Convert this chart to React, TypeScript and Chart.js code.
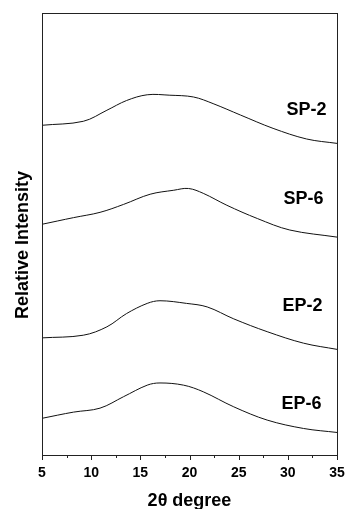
import React, { useEffect, useRef } from "react";
import { Chart, registerables } from "chart.js";

Chart.register(...registerables);

const xTicks = [5, 10, 15, 20, 25, 30, 35];

const sp2X = [5, 9.2, 11.6, 13.6, 15.7, 18.0, 20.4, 22.4, 25.2, 28.5, 31.9, 35];
const sp2Y = [74.6, 75.5, 78.0, 80.2, 81.5, 81.4, 81.0, 79.5, 76.9, 73.9, 71.5, 70.5];

const sp6X = [5, 8.2, 10.9, 13.3, 16.0, 18.4, 19.9, 21.4, 23.8, 26.9, 30.2, 35];
const sp6Y = [52.2, 53.7, 54.9, 56.7, 59.0, 59.9, 60.3, 59.2, 56.5, 53.5, 50.9, 49.3];

const ep2X = [5, 9.2, 11.6, 13.6, 15.7, 17.0, 19.7, 21.8, 24.5, 27.9, 31.6, 35];
const ep2Y = [26.5, 27.1, 29.0, 32.0, 34.3, 34.9, 34.3, 33.5, 30.8, 27.9, 25.3, 23.9];

const ep6X = [5, 8.2, 10.9, 13.3, 15.7, 17.0, 19.4, 21.4, 24.5, 27.9, 31.6, 35];
const ep6Y = [8.3, 9.7, 10.6, 13.2, 15.8, 16.3, 15.8, 14.3, 10.9, 7.9, 6.0, 5.1];

const seriesNames = ["SP-2", "SP-6", "EP-2", "EP-6"];
const labelX = [31.9, 31.6, 31.5, 31.4];
const labelY = [78.0, 57.9, 33.8, 11.5];

const xTitle = "2θ degree";
const yTitle = "Relative Intensity";

const toPts = (xs: number[], ys: number[]) => xs.map((x, i) => ({ x, y: ys[i] }));

export default function App() {
  const ref = useRef<HTMLCanvasElement | null>(null);
  useEffect(() => {
    document.body.style.margin = "0";
    const canvas = ref.current!;
    const series = [
      toPts(sp2X, sp2Y),
      toPts(sp6X, sp6Y),
      toPts(ep2X, ep2Y),
      toPts(ep6X, ep6Y),
    ];
    const deco = {
      id: "deco",
      afterDraw(chart: any) {
        const ctx = chart.ctx;
        const { left, right, top, bottom } = chart.chartArea;
        const xs = chart.scales.x;
        const ys = chart.scales.y;
        ctx.save();
        ctx.strokeStyle = "#222";
        ctx.lineWidth = 1;
        ctx.strokeRect(Math.round(left) + 0.5, Math.round(top) + 0.5, Math.round(right - left), Math.round(bottom - top));
        for (let v = 5; v <= 35; v += 2.5) {
          const px = Math.round(xs.getPixelForValue(v)) + 0.5;
          const major = v % 5 === 0;
          ctx.beginPath();
          ctx.moveTo(px, Math.round(bottom));
          ctx.lineTo(px, Math.round(bottom) + (major ? 5 : 3));
          ctx.stroke();
        }
        ctx.fillStyle = "#000";
        ctx.font = "bold 18px Arial, 'Liberation Sans', sans-serif";
        ctx.textAlign = "center";
        ctx.textBaseline = "middle";
        seriesNames.forEach((n, i) => {
          ctx.fillText(n, xs.getPixelForValue(labelX[i]), ys.getPixelForValue(labelY[i]));
        });
        ctx.font = "bold 14px Arial, 'Liberation Sans', sans-serif";
        ctx.textBaseline = "alphabetic";
        xTicks.forEach((v) => {
          ctx.fillText(String(v), xs.getPixelForValue(v), 477);
        });
        ctx.font = "bold 18px Arial, 'Liberation Sans', sans-serif";
        ctx.fillText(xTitle, (left + right) / 2, 506);
        ctx.translate(28, 245);
        ctx.rotate(-Math.PI / 2);
        ctx.fillText(yTitle, 0, 0);
        ctx.restore();
      },
    };
    const chart = new Chart(canvas, {
      type: "scatter",
      data: {
        datasets: series.map((d) => ({
          data: d,
          showLine: true,
          borderColor: "#111",
          borderWidth: 1,
          pointRadius: 0,
          tension: 0.35,
          fill: false,
        })),
      },
      options: {
        animation: false,
        responsive: false,
        maintainAspectRatio: false,
        events: [],
        layout: { padding: { left: 42, top: 13, right: 8, bottom: 0 } },
        plugins: { legend: { display: false }, tooltip: { enabled: false } },
        scales: {
          x: {
            type: "linear",
            min: 5,
            max: 35,
            afterBuildTicks: (s: any) => {
              s.ticks = xTicks.map((v) => ({ value: v }));
            },
            afterFit: (s: any) => {
              s.height = 54;
            },
            grid: { display: false, drawTicks: false },
            border: { display: false },
            ticks: { display: false },
          },
          y: {
            display: false,
            min: 0,
            max: 100,
          },
        },
      },
      plugins: [deco],
    } as any);
    return () => chart.destroy();
  }, []);
  return (
    <div style={{ position: "absolute", left: 0, top: 0, width: 345, height: 509 }}>
      <canvas ref={ref} width={345} height={509} style={{ width: 345, height: 509, display: "block" }} />
    </div>
  );
}
